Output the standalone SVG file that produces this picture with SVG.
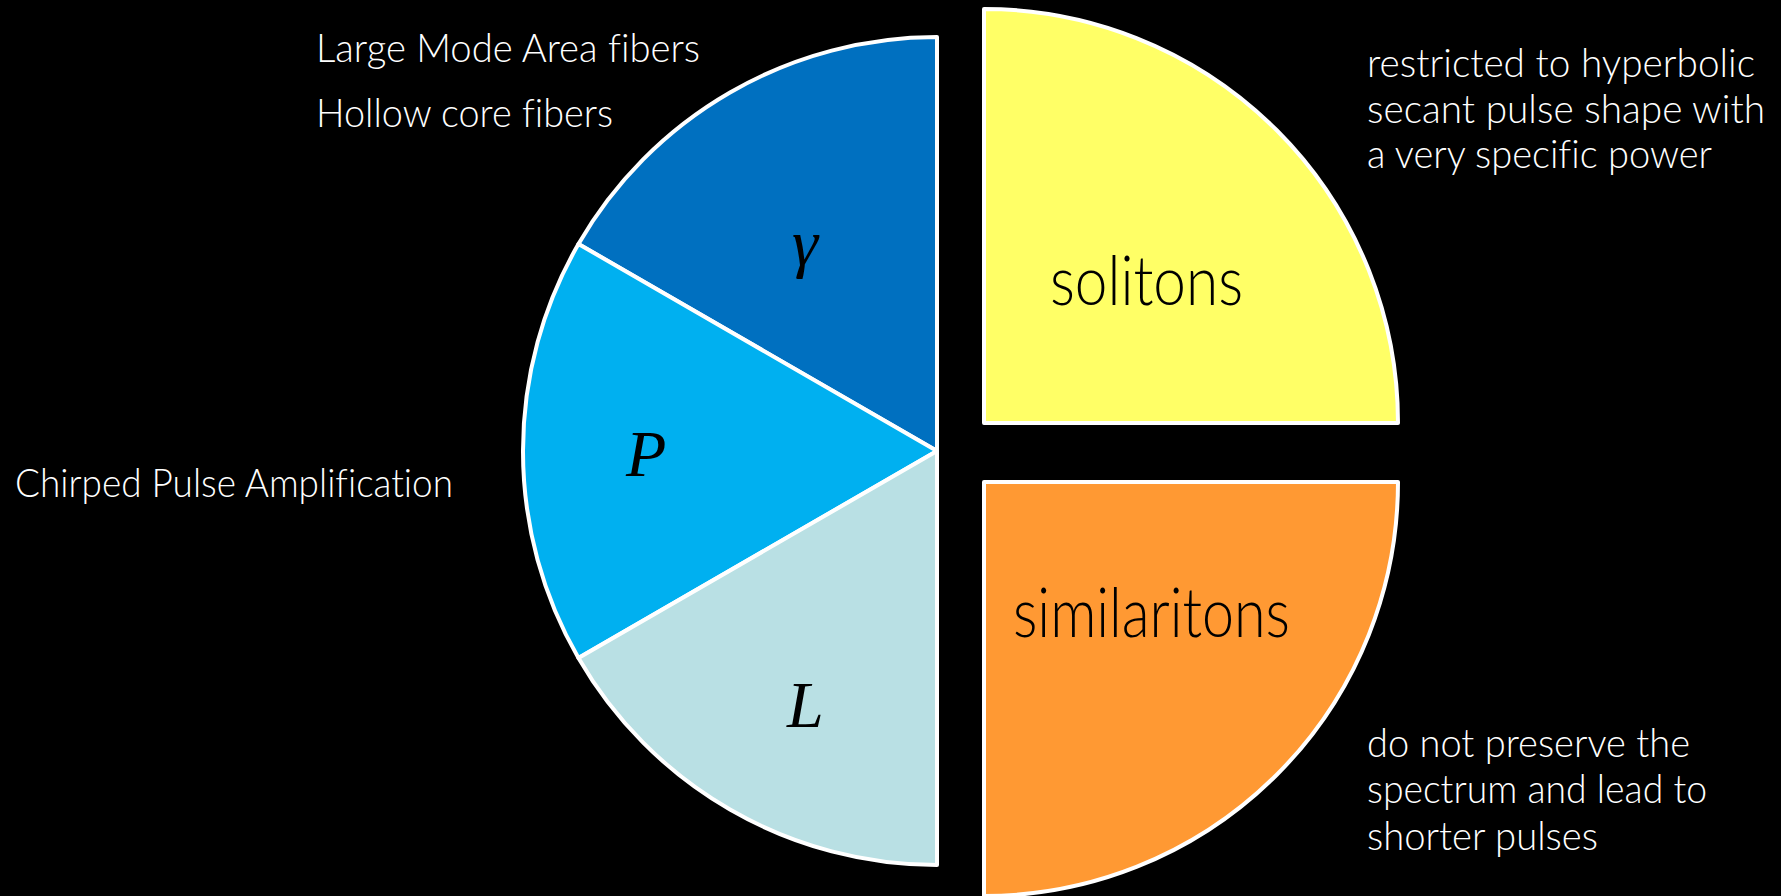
<svg xmlns="http://www.w3.org/2000/svg" width="1781" height="896" viewBox="0 0 1781 896">
<style>
.seg{stroke:#FFFFFF;stroke-width:4;stroke-linejoin:round}
.note{font-family:Lato,"Open Sans","DejaVu Sans",sans-serif;font-weight:300;font-size:40px;fill:#FFFFFF;font-variant-ligatures:none}
.big{font-family:Lato,"Open Sans","DejaVu Sans",sans-serif;font-weight:300;font-size:68px;fill:#000000}
.sym{font-family:"Liberation Serif","Times New Roman",serif;font-style:italic;font-size:66px;fill:#000000}
</style>
<rect x="0" y="0" width="1781" height="896" fill="#000000"/>
<g id="gamma">
<path class="seg" fill="#0070C0" d="M937,451 L937,37 A414,414 0 0 0 578.46,244 Z"/>
<text class="sym" x="792" y="265">γ</text>
</g>
<g id="power">
<path class="seg" fill="#00B0F0" d="M937,451 L578.46,244 A414,414 0 0 0 578.46,658 Z"/>
<text class="sym" x="626" y="476">P</text>
</g>
<g id="length">
<path class="seg" fill="#B9E0E4" d="M937,451 L578.46,658 A414,414 0 0 0 937,865 Z"/>
<text class="sym" x="787" y="727">L</text>
</g>
<g id="solitons">
<path class="seg" fill="#FFFF66" d="M984,423 L984,9 A414,414 0 0 1 1398,423 Z"/>
<text class="big" x="1050" y="305" textLength="193" lengthAdjust="spacingAndGlyphs">solitons</text>
</g>
<g id="similaritons">
<path class="seg" fill="#FF9933" d="M984,482 L1398,482 A414,414 0 0 1 984,896 Z"/>
<text class="big" x="1013" y="637" textLength="277" lengthAdjust="spacingAndGlyphs">similaritons</text>
</g>
<g id="labels-left">
<text class="note" x="316" y="62" textLength="384" lengthAdjust="spacingAndGlyphs">Large Mode Area fibers</text>
<text class="note" x="316" y="127" textLength="297" lengthAdjust="spacingAndGlyphs">Hollow core fibers</text>
<text class="note" x="15" y="497" textLength="438" lengthAdjust="spacingAndGlyphs">Chirped Pulse Amplification</text>
</g>
<g id="labels-right">
<text class="note" x="1367" y="77" textLength="388" lengthAdjust="spacingAndGlyphs">restricted to hyperbolic</text>
<text class="note" x="1367" y="123" textLength="398" lengthAdjust="spacingAndGlyphs">secant pulse shape with</text>
<text class="note" x="1367" y="168" textLength="345" lengthAdjust="spacingAndGlyphs">a very specific power</text>
<text class="note" x="1367" y="757" textLength="323" lengthAdjust="spacingAndGlyphs">do not preserve the</text>
<text class="note" x="1367" y="803" textLength="340" lengthAdjust="spacingAndGlyphs">spectrum and lead to</text>
<text class="note" x="1367" y="850" textLength="231" lengthAdjust="spacingAndGlyphs">shorter pulses</text>
</g>
<g id="connectors"></g>
</svg>
